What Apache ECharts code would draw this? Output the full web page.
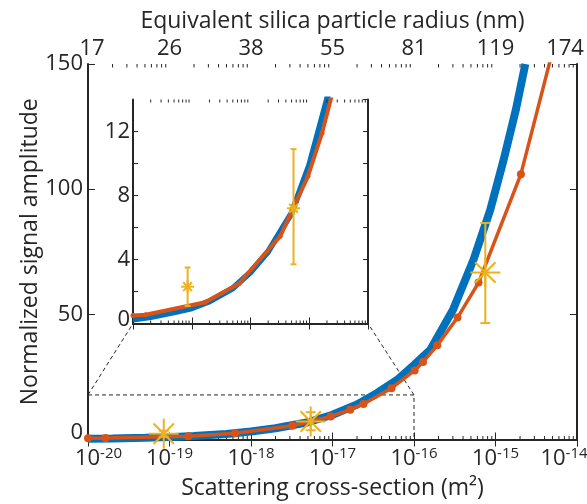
<!DOCTYPE html>
<html lang="en">
<head>
<meta charset="utf-8">
<title>Normalized signal amplitude vs scattering cross-section</title>
<script src="https://cdn.jsdelivr.net/npm/echarts@6/dist/echarts.min.js"></script>
<style>
    html, body { margin: 0; padding: 0; background: #fff; }
    #main { width: 587px; height: 504px; }
</style>
</head>
<body>
<div id="main"></div>
<script>
// x axis decades (log10 of cross-section) and the silica radius printed above each one
var decades = [-20, -19, -18, -17, -16, -15, -14];
var radiusLabels = ['17', '26', '38', '55', '81', '119', '174'];
var minorMultipliers = [2, 3, 4, 5, 6, 7, 8, 9];
var yTicksMain = [0, 150, 50];      // min, max, interval
var yTicksInset = [0, 14, 2];

// blue curve (dense model curve)
var modelX = [1e-20, 2e-20, 5e-20, 1e-19, 2e-19, 5e-19, 1e-18, 2e-18, 5e-18, 1e-17, 2e-17, 3.5e-17,
              6.2e-17, 1e-16, 1.58e-16, 3.01e-16, 5.37e-16, 8.63e-16, 1.26e-15, 1.78e-15, 2.25e-15, 2.32e-15];
var modelY = [0.25, 0.4, 0.7, 0.95, 1.38, 2.2, 3.2, 4.5, 6.9, 9.9, 14, 18.5,
              23.8, 29.8, 35.8, 51.8, 71.8, 91.8, 111.8, 131.8, 147.8, 150];

// orange curve with dot markers
var fitX = [1e-20, 1.64e-20, 1.7e-19, 6.4e-19, 3.2e-18, 9.5e-18, 1.65e-17, 2.4e-17, 5.3e-17,
            1.02e-16, 1.29e-16, 1.93e-16, 3.42e-16, 6.2e-16, 2.05e-15, 6e-15];
var fitY = [0.5, 0.55, 1.33, 2.5, 5.45, 9.2, 11.9, 14.2, 20.5,
            27.6, 31, 37.6, 48.7, 62.7, 106, 165];

// measured points (yellow stars) and error bar ends
var measX = [8.5e-20, 5.4e-18, 7.5e-16];
var measY = [2.3, 7.2, 66.7];
var measLow = [1.1, 3.7, 46.5];
var measHigh = [3.5, 10.9, 86.5];

// region that the inset magnifies
var zoomX = [1e-20, 1e-16];
var zoomY = [0, 17.8];

var blue = '#0072BD', orange = '#D95319', yellow = '#EDB120', ink = '#262626';
var font = 'Open Sans';

function pairs(xs, ys) {
    return xs.map(function (x, i) { return [x, ys[i]]; });
}

var minorMain = [], minorInset = [];
decades.slice(0, -1).forEach(function (d) {
    minorMultipliers.forEach(function (k) {
        var v = k * Math.pow(10, d);
        minorMain.push([v, yTicksMain[0]]);
        if (d < Math.log10(zoomX[1]) - 0.5) minorInset.push([v, yTicksInset[0]]);
    });
});

function minorTicks(yr, len) {
    return function (params, api) {
        var x = api.value(0);
        var b = api.coord([x, yr[0]]);
        var t = api.coord([x, yr[1]]);
        var st = {stroke: ink, lineWidth: 1};
        return {
            type: 'group', children: [
                {type: 'line', shape: {x1: b[0], y1: b[1], x2: b[0], y2: b[1] - len}, style: st},
                {type: 'line', shape: {x1: t[0], y1: t[1], x2: t[0], y2: t[1] + len}, style: st}
            ]
        };
    };
}

function stars(r, cap, lw) {
    return function (params, api) {
        var x = api.value(0);
        var c = api.coord([x, api.value(1)]);
        var lo = api.coord([x, api.value(2)]);
        var hi = api.coord([x, api.value(3)]);
        var d = r * 0.68;
        var st = {stroke: yellow, lineWidth: lw};
        function seg(x1, y1, x2, y2) {
            return {type: 'line', shape: {x1: x1, y1: y1, x2: x2, y2: y2}, style: st};
        }
        return {
            type: 'group', children: [
                seg(c[0], lo[1], c[0], hi[1]),
                seg(c[0] - cap, lo[1], c[0] + cap, lo[1]),
                seg(c[0] - cap, hi[1], c[0] + cap, hi[1]),
                seg(c[0] - r, c[1], c[0] + r, c[1]),
                seg(c[0], c[1] - r, c[0], c[1] + r),
                seg(c[0] - d, c[1] - d, c[0] + d, c[1] + d),
                seg(c[0] - d, c[1] + d, c[0] + d, c[1] - d)
            ]
        };
    };
}

var measData = measX.map(function (x, i) { return [x, measY[i], measLow[i], measHigh[i]]; });

var lineStyleAxis = {color: ink, width: 2};

function expLabel(v) {
    var e = Math.round(Math.log10(v));
    if (e === decades[0]) return '{pl| }{b|10}{s|' + e + '}';
    if (e === decades[decades.length - 1]) return '{b|10}{s|' + e + '}{pr| }';
    return '{b|10}{s|' + e + '}';
}

function radiusLabel(v) {
    var i = decades.indexOf(Math.round(Math.log10(v)));
    if (i === 0) return '{pl| }{b|' + radiusLabels[i] + '}';
    if (i === radiusLabels.length - 1) return '{b|' + radiusLabels[i] + '}{pr| }';
    return '{b|' + radiusLabels[i] + '}';
}

var option = {
    animation: false,
    backgroundColor: '#fff',
    grid: [
        {left: 88, top: 64, width: 489, height: 375.5, containLabel: false, outerBoundsMode: 'none'},
        {left: 133, top: 99.5, width: 235, height: 224, containLabel: false, outerBoundsMode: 'none',
            show: true, backgroundColor: '#fff', borderWidth: 0, z: 8}
    ],
    xAxis: [
        {
            type: 'log', gridIndex: 0, position: 'bottom', logBase: 10,
            min: Math.pow(10, decades[0]), max: Math.pow(10, decades[decades.length - 1]),
            axisLine: {show: true, lineStyle: lineStyleAxis},
            axisTick: {show: true, inside: true, length: 7, lineStyle: {color: ink, width: 1}},
            splitLine: {show: false},
            axisLabel: {
                showMinLabel: true, showMaxLabel: true, hideOverlap: false, margin: 7,
                formatter: expLabel,
                rich: {
                    b: {fontFamily: font, fontSize: 22, color: ink, lineHeight: 24},
                    s: {fontFamily: font, fontSize: 15, color: ink, lineHeight: 15, verticalAlign: 'top'},
                    pl: {width: 21}, pr: {width: 26}
                }
            },
            name: 'Scattering cross-section (m\u00B2)', nameLocation: 'middle', nameGap: 37,
            nameMoveOverlap: false,
            nameTextStyle: {color: ink, fontFamily: font, fontSize: 23}
        },
        {
            type: 'log', gridIndex: 0, position: 'top', logBase: 10,
            min: Math.pow(10, decades[0]), max: Math.pow(10, decades[decades.length - 1]),
            axisLine: {show: true, lineStyle: lineStyleAxis},
            axisTick: {show: true, inside: true, length: 7, lineStyle: {color: ink, width: 1}},
            splitLine: {show: false},
            axisLabel: {
                showMinLabel: true, showMaxLabel: true, hideOverlap: false, margin: 4,
                formatter: radiusLabel,
                rich: {
                    b: {fontFamily: font, fontSize: 22, color: ink},
                    pl: {width: 8}, pr: {width: 24}
                }
            },
            name: 'Equivalent silica particle radius (nm)', nameLocation: 'middle', nameGap: 31,
            nameMoveOverlap: false,
            nameTextStyle: {color: ink, fontFamily: font, fontSize: 23}
        },
        {
            type: 'log', gridIndex: 1, position: 'bottom', logBase: 10, z: 9,
            min: zoomX[0], max: zoomX[1],
            axisLine: {show: true, lineStyle: lineStyleAxis},
            axisTick: {show: true, inside: true, length: 6, lineStyle: {color: ink, width: 1}},
            axisLabel: {show: false}, splitLine: {show: false}
        },
        {
            type: 'log', gridIndex: 1, position: 'top', logBase: 10, z: 9,
            min: zoomX[0], max: zoomX[1],
            axisLine: {show: true, lineStyle: lineStyleAxis},
            axisTick: {show: true, inside: true, length: 6, lineStyle: {color: ink, width: 1}},
            axisLabel: {show: false}, splitLine: {show: false}
        }
    ],
    yAxis: [
        {
            type: 'value', gridIndex: 0, position: 'left',
            min: yTicksMain[0], max: yTicksMain[1], interval: yTicksMain[2],
            axisLine: {show: true, lineStyle: lineStyleAxis},
            axisTick: {show: true, inside: true, length: 7, lineStyle: {color: ink, width: 1}},
            splitLine: {show: false},
            axisLabel: {
                margin: 5, showMinLabel: true, showMaxLabel: true,
                formatter: function (v) { return v === 0 ? '{z|0}' : '{b|' + v + '}'; },
                rich: {
                    b: {fontFamily: font, fontSize: 22, color: ink},
                    z: {fontFamily: font, fontSize: 22, color: ink, padding: [0, 0, 14, 0]}
                }
            },
            name: 'Normalized signal amplitude', nameLocation: 'middle', nameGap: 46,
            nameMoveOverlap: false,
            nameTextStyle: {color: ink, fontFamily: font, fontSize: 23}
        },
        {
            type: 'value', gridIndex: 0, position: 'right',
            min: yTicksMain[0], max: yTicksMain[1], interval: yTicksMain[2],
            axisLine: {show: true, lineStyle: lineStyleAxis},
            axisTick: {show: true, inside: true, length: 7, lineStyle: {color: ink, width: 1}},
            axisLabel: {show: false}, splitLine: {show: false}
        },
        {
            type: 'value', gridIndex: 1, position: 'left', z: 9,
            min: yTicksInset[0], max: yTicksInset[1], interval: yTicksInset[2],
            axisLine: {show: true, lineStyle: lineStyleAxis},
            axisTick: {show: true, inside: true, length: 5, lineStyle: {color: ink, width: 1}},
            splitLine: {show: false},
            axisLabel: {
                margin: 3, showMinLabel: true, showMaxLabel: false,
                formatter: function (v) {
                    if (v % 4 !== 0) return '';
                    return v === 0 ? '{z|0}' : '{b|' + v + '}';
                },
                rich: {
                    b: {fontFamily: font, fontSize: 22, color: ink},
                    z: {fontFamily: font, fontSize: 22, color: ink, padding: [0, 0, 8, 0]}
                }
            }
        },
        {
            type: 'value', gridIndex: 1, position: 'right', z: 9,
            min: yTicksInset[0], max: yTicksInset[1], interval: yTicksInset[2],
            axisLine: {show: true, lineStyle: lineStyleAxis},
            axisTick: {show: true, inside: true, length: 5, lineStyle: {color: ink, width: 1}},
            axisLabel: {show: false}, splitLine: {show: false}
        }
    ],
    series: [
        {
            // dashed outline of the magnified region
            type: 'line', xAxisIndex: 0, yAxisIndex: 0, z: 1, silent: true,
            data: [[zoomX[0], zoomY[1]], [zoomX[1], zoomY[1]], [zoomX[1], zoomY[0]]],
            showSymbol: false, lineStyle: {color: ink, width: 1, type: [4, 3]}
        },
        {
            type: 'line', xAxisIndex: 0, yAxisIndex: 0, z: 2, clip: true,
            data: pairs(modelX, modelY), showSymbol: false,
            lineStyle: {color: blue, width: 8}
        },
        {
            type: 'line', xAxisIndex: 0, yAxisIndex: 0, z: 3, clip: true,
            data: pairs(fitX, fitY), symbol: 'circle', symbolSize: 8,
            itemStyle: {color: orange}, lineStyle: {color: orange, width: 3.5}
        },
        {
            type: 'custom', xAxisIndex: 0, yAxisIndex: 0, z: 4,
            data: measData, renderItem: stars(15, 5, 2), clip: false
        },
        {
            type: 'custom', xAxisIndex: 0, yAxisIndex: 0, z: 1, silent: true,
            data: minorMain, renderItem: minorTicks([yTicksMain[0], yTicksMain[1]], 3.5)
        },
        {
            type: 'line', xAxisIndex: 2, yAxisIndex: 2, z: 10, clip: true,
            data: pairs(modelX, modelY), showSymbol: false,
            lineStyle: {color: blue, width: 6}
        },
        {
            type: 'line', xAxisIndex: 2, yAxisIndex: 2, z: 11, clip: true,
            data: pairs(fitX, fitY), symbol: 'circle', symbolSize: 5,
            itemStyle: {color: orange}, lineStyle: {color: orange, width: 4}
        },
        {
            type: 'custom', xAxisIndex: 2, yAxisIndex: 2, z: 12,
            data: measData, renderItem: stars(6.5, 3, 2), clip: false
        },
        {
            type: 'custom', xAxisIndex: 2, yAxisIndex: 2, z: 12, silent: true,
            data: minorInset, renderItem: minorTicks([yTicksInset[0], yTicksInset[1]], 3)
        }
    ]
};

var chart = echarts.init(document.getElementById('main'));
chart.setOption(option);

// dashed connectors from the outlined region to the inset corners
var a1 = chart.convertToPixel({xAxisIndex: 0, yAxisIndex: 0}, [zoomX[0], zoomY[1]]);
var a2 = chart.convertToPixel({xAxisIndex: 0, yAxisIndex: 0}, [zoomX[1], zoomY[1]]);
var b1 = chart.convertToPixel({xAxisIndex: 2, yAxisIndex: 2}, [zoomX[0], yTicksInset[0]]);
var b2 = chart.convertToPixel({xAxisIndex: 2, yAxisIndex: 2}, [zoomX[1], yTicksInset[0]]);
var dash = {stroke: ink, lineWidth: 1, lineDash: [4, 3]};
chart.setOption({
    graphic: [
        {type: 'line', z: 1, shape: {x1: a1[0], y1: a1[1], x2: b1[0], y2: b1[1]}, style: dash},
        {type: 'line', z: 1, shape: {x1: a2[0], y1: a2[1], x2: b2[0], y2: b2[1]}, style: dash}
    ]
});
</script>
</body>
</html>
